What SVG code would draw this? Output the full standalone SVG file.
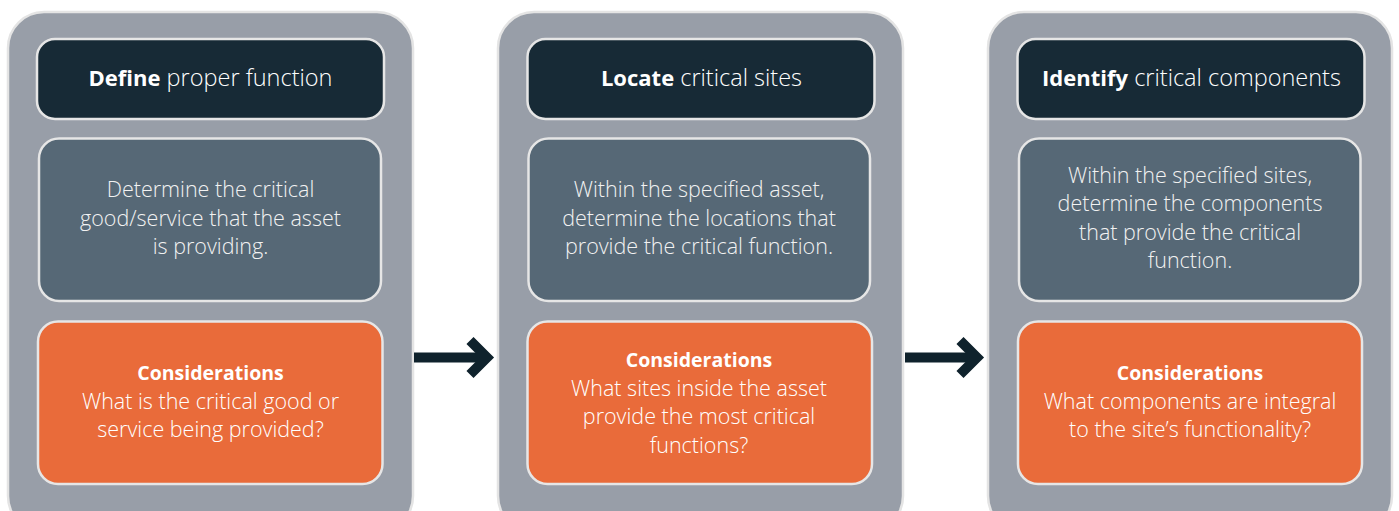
<svg xmlns="http://www.w3.org/2000/svg" width="1399" height="511" viewBox="0 0 1399 511">
  <defs>
    <style>
      .panel { fill: #989ea8; stroke: #e4e4e4; stroke-width: 2.5; }
      .head { fill: #172a36; stroke: #e6e6e6; stroke-width: 2.5; }
      .body { fill: #566876; stroke: #e6e6e6; stroke-width: 2.5; }
      .note { fill: #e96b3a; stroke: #e6e6e6; stroke-width: 2.5; }
      text { font-family: "Open Sans", "Lato", "Liberation Sans", sans-serif; font-size: 21.5px; font-weight: 300; fill: #ffffff; text-anchor: middle; }
      .t-head { font-size: 23.5px; }
      .t-body { fill: #f2f2f2; }
      .b { font-weight: 700; font-size: 19.5px; }
      .t-head .b { font-size: 22px; }
      .arrow { stroke: #0f222c; stroke-width: 10; fill: none; stroke-linejoin: miter; }
    </style>
  </defs>

  <rect width="1399" height="511" fill="#ffffff"/>

  <!-- Step 1 -->
  <g id="step-define">
    <rect class="panel" x="8" y="12" width="405" height="520" rx="36"/>
    <rect class="head" x="37" y="39" width="347" height="80" rx="18"/>
    <text class="t-head" x="210.5" y="86"><tspan class="b">Define</tspan> proper function</text>
    <rect class="body" x="39" y="138.5" width="342" height="162.5" rx="20"/>
    <text class="t-body" x="210.5" y="197">Determine the critical</text>
    <text class="t-body" x="210.5" y="225.5">good/service that the asset</text>
    <text class="t-body" x="210.5" y="254">is providing.</text>
    <rect class="note" x="38" y="321.5" width="344.5" height="162.5" rx="20"/>
    <text class="b" x="210.5" y="380">Considerations</text>
    <text x="210.5" y="408.5">What is the critical good or</text>
    <text x="210.5" y="437">service being provided?</text>
  </g>

  <!-- Step 2 -->
  <g id="step-locate">
    <rect class="panel" x="498" y="12" width="405" height="520" rx="36"/>
    <rect class="head" x="527.5" y="39" width="347" height="80" rx="18"/>
    <text class="t-head" x="701.5" y="86"><tspan class="b">Locate</tspan> critical sites</text>
    <rect class="body" x="528.5" y="138.5" width="341.5" height="162.5" rx="20"/>
    <text class="t-body" x="699" y="197">Within the specified asset,</text>
    <text class="t-body" x="699" y="225.5">determine the locations that</text>
    <text class="t-body" x="699" y="254">provide the critical function.</text>
    <rect class="note" x="527.5" y="321.5" width="344.5" height="162.5" rx="20"/>
    <text class="b" x="699" y="367">Considerations</text>
    <text x="699" y="395.5">What sites inside the asset</text>
    <text x="699" y="424">provide the most critical</text>
    <text x="699" y="452.5">functions?</text>
  </g>

  <!-- Step 3 -->
  <g id="step-identify">
    <rect class="panel" x="988" y="12" width="404" height="520" rx="36"/>
    <rect class="head" x="1017.5" y="39" width="347" height="80" rx="18"/>
    <text class="t-head" x="1191.5" y="86"><tspan class="b">Identify</tspan> critical components</text>
    <rect class="body" x="1019" y="138.5" width="341.5" height="162.5" rx="20"/>
    <text class="t-body" x="1190" y="182.5">Within the specified sites,</text>
    <text class="t-body" x="1190" y="211">determine the components</text>
    <text class="t-body" x="1190" y="239.5">that provide the critical</text>
    <text class="t-body" x="1190" y="268">function.</text>
    <rect class="note" x="1018" y="321.5" width="344" height="162.5" rx="20"/>
    <text class="b" x="1190" y="380">Considerations</text>
    <text x="1190" y="408.5">What components are integral</text>
    <text x="1190" y="437">to the site’s functionality?</text>
  </g>

  <!-- Connectors -->
  <g id="connectors">
    <line class="arrow" x1="414" y1="357.5" x2="484" y2="357.5"/>
    <polyline class="arrow" points="470,340.5 487,357.5 470,374.5"/>
    <line class="arrow" x1="905" y1="357.5" x2="974" y2="357.5"/>
    <polyline class="arrow" points="960,340.5 977,357.5 960,374.5"/>
  </g>
</svg>
